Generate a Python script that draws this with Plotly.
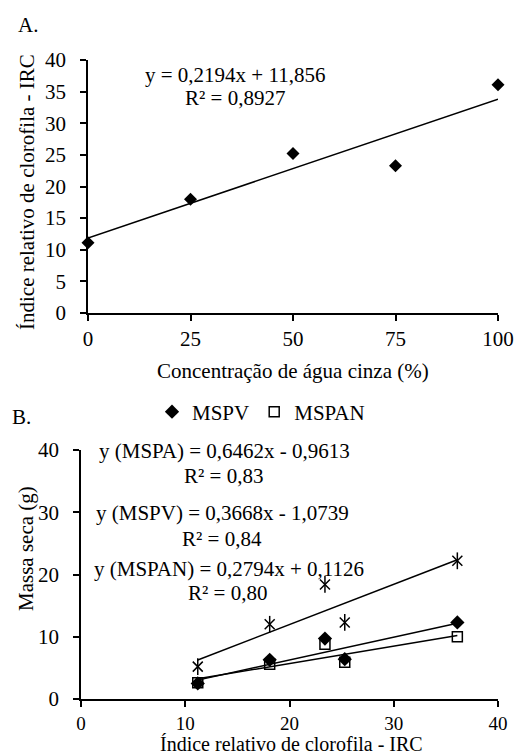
import plotly.graph_objects as go

# ---------------- data ----------------
# Panel A: grey-water concentration vs relative chlorophyll index
conc = [0, 25, 50, 75, 100]
irc = [11.1, 18.0, 25.2, 23.3, 36.1]
a_slope, a_icpt = 0.2194, 11.856

# Panel B: dry mass vs IRC
irc_b = [11.2, 18.1, 23.4, 25.3, 36.1]
mspa = [5.2, 12.0, 18.4, 12.3, 22.2]
mspv = [2.5, 6.3, 9.7, 6.4, 12.3]
mspan = [2.6, 5.6, 8.8, 5.9, 10.0]
coef = {"MSPA": (0.6462, -0.9613), "MSPV": (0.3668, -1.0739), "MSPAN": (0.2794, 0.1126)}

eq_a = ["y = 0,2194x + 11,856", "R² = 0,8927"]
eq_b = ["y (MSPA) = 0,6462x - 0,9613", "R² = 0,83",
        "y (MSPV) = 0,3668x - 1,0739", "R² = 0,84",
        "y (MSPAN) = 0,2794x + 0,1126", "R² = 0,80"]

W, H = 514, 756
FONT = "Times New Roman, Liberation Serif, DejaVu Serif, serif"
FS = 21


def px(x, y):
    """window pixel -> paper coordinate"""
    return x / W, 1 - y / H


def line_ends(xs, m, b):
    x0, x1 = min(xs), max(xs)
    return [x0, x1], [m * x0 + b, m * x1 + b]


fig = go.Figure()

# Panel A
lx, ly = line_ends(conc, a_slope, a_icpt)
fig.add_trace(go.Scatter(x=lx, y=ly, mode="lines", xaxis="x", yaxis="y",
                         line=dict(color="black", width=1.5), showlegend=False))
fig.add_trace(go.Scatter(x=conc, y=irc, mode="markers", xaxis="x", yaxis="y",
                         marker=dict(symbol="diamond", size=10, color="black"),
                         showlegend=False, cliponaxis=False))

# Panel B trendlines
for name in ["MSPA", "MSPV", "MSPAN"]:
    m, b = coef[name]
    lx, ly = line_ends(irc_b, m, b)
    fig.add_trace(go.Scatter(x=lx, y=ly, mode="lines", xaxis="x2", yaxis="y2",
                             line=dict(color="black", width=1.5), showlegend=False))

# Panel B markers
fig.add_trace(go.Scatter(x=irc_b, y=mspan, mode="markers", name="MSPAN", xaxis="x2", yaxis="y2",
                         marker=dict(symbol="square-open", size=10, color="black",
                                     line=dict(width=1.5, color="black"))))
fig.add_trace(go.Scatter(x=irc_b, y=mspv, mode="markers", name="MSPV", xaxis="x2", yaxis="y2",
                         marker=dict(symbol="diamond", size=11, color="black")))
fig.add_trace(go.Scatter(x=irc_b, y=mspa, mode="markers", name="MSPA", xaxis="x2", yaxis="y2",
                         showlegend=False,
                         marker=dict(symbol="x-thin-open", size=10, color="black",
                                     line=dict(width=1.5, color="black"))))
fig.add_trace(go.Scatter(x=irc_b, y=mspa, mode="markers", name="MSPA", xaxis="x2", yaxis="y2",
                         showlegend=False,
                         marker=dict(symbol="line-ns-open", size=12, color="black",
                                     line=dict(width=1.5, color="black"))))

axis_common = dict(showline=True, linecolor="black", linewidth=1.5, ticks="outside",
                   ticklen=6, tickwidth=1.5, tickcolor="black", showgrid=False,
                   zeroline=False, automargin=False)
tf = dict(family=FONT, size=FS, color="black")
tf_small = dict(family=FONT, size=19, color="black")

xa0, _ = px(88, 0)
xa1, _ = px(498, 0)
_, ya0 = px(0, 313)
_, ya1 = px(0, 60)
xb0, _ = px(81, 0)
xb1, _ = px(498, 0)
_, yb0 = px(0, 699)
_, yb1 = px(0, 450)

fig.update_layout(
    template="none",
    width=W, height=H, margin=dict(l=0, r=0, t=0, b=0, pad=0),
    paper_bgcolor="white", plot_bgcolor="white",
    font=dict(family=FONT, size=FS, color="black"),
    xaxis=dict(domain=[xa0, xa1], range=[0, 100], tickvals=[0, 25, 50, 75, 100],
               anchor="y", ticklabelstandoff=0, tickfont=tf, **axis_common),
    yaxis=dict(domain=[ya0, ya1], range=[0, 40], tickvals=list(range(0, 41, 5)),
               anchor="x", ticklabelstandoff=10, tickfont=tf, **axis_common),
    xaxis2=dict(domain=[xb0, xb1], range=[0, 40], tickvals=[0, 10, 20, 30, 40],
                anchor="y2", ticklabelstandoff=0, tickfont=tf_small, **axis_common),
    yaxis2=dict(domain=[yb0, yb1], range=[0, 40], tickvals=[0, 10, 20, 30, 40],
                anchor="x2", ticklabelstandoff=10, tickfont=tf, **axis_common),
    legend=dict(orientation="h", x=px(152, 0)[0], y=px(0, 412)[1], xanchor="left",
                yanchor="middle", font=dict(family=FONT, size=FS, color="black"),
                traceorder="reversed", itemwidth=30, bgcolor="rgba(0,0,0,0)"),
)

ann = []


def add_text(t, x, y, angle=0, yanchor="middle", size=FS):
    ax, ay = px(x, y)
    ann.append(dict(text=t, x=ax, y=ay, xref="paper", yref="paper", showarrow=False,
                    xanchor="center", yanchor=yanchor, textangle=angle,
                    font=dict(family=FONT, size=size, color="black")))


add_text("A.", 28, 25)
add_text("B.", 21, 417)
add_text(eq_a[0], 235, 75)
add_text(eq_a[1], 235, 98)
for t, (x, y) in zip(eq_b, [(224, 451), (223, 476), (222, 513), (222, 539), (229, 569), (227, 593)]):
    add_text(t, x, y)
add_text("Índice relativo de clorofila - IRC", 27, 192, angle=-90)
add_text("Massa seca (g)", 26, 549, angle=-90)
add_text("Concentração de água cinza (%)", 293, 371)
add_text("Índice relativo de clorofila - IRC", 291, 757, yanchor="bottom", size=20)
fig.update_layout(annotations=ann)

fig.write_html("out.html", config={"displayModeBar": False},
               post_script="document.body.style.margin='0';document.body.style.overflow='hidden';")
